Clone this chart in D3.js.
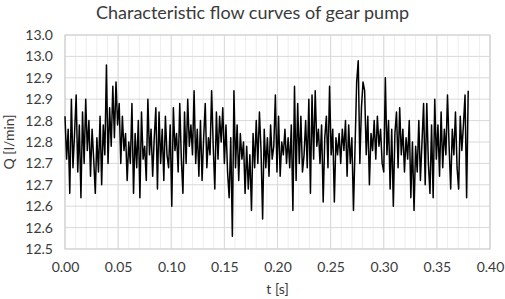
<!DOCTYPE html>
<html>
<head>
<meta charset="utf-8">
<script src="https://cdn.jsdelivr.net/npm/d3@7"></script>
<style>
  body { margin: 0; background: #fff; }
  text { font-family: Lato, "Open Sans", sans-serif; fill: #3a3a3a; }
</style>
</head>
<body>
<svg id="chart"></svg>
<script>
const width = 505;
const height = 299;

// sampling step of the flow signal [s]
const dt = 0.0015;

// flow Q [l/min]
const flow = [
  12.81, 12.71, 12.78, 12.63, 12.85, 12.69, 12.77, 12.86, 12.68, 12.79,
  12.62, 12.82, 12.70, 12.85, 12.73, 12.80, 12.67, 12.78, 12.71, 12.63,
  12.76, 12.68, 12.81, 12.65, 12.79, 12.72, 12.93, 12.70, 12.83, 12.74,
  12.88, 12.76, 12.89, 12.79, 12.84, 12.70, 12.81, 12.73, 12.77, 12.66,
  12.75, 12.70, 12.84, 12.63, 12.77, 12.69, 12.80, 12.62, 12.82, 12.71,
  12.74, 12.66, 12.85, 12.72, 12.78, 12.67, 12.76, 12.83, 12.64, 12.82,
  12.70, 12.78, 12.66, 12.81, 12.72, 12.69, 12.79, 12.60, 12.83, 12.73,
  12.77, 12.68, 12.84, 12.71, 12.63, 12.82, 12.70, 12.85, 12.74, 12.79,
  12.72, 12.87, 12.70, 12.78, 12.67, 12.80, 12.66, 12.76, 12.84, 12.69,
  12.76, 12.72, 12.87, 12.74, 12.64, 12.82, 12.71, 12.81, 12.75, 12.83,
  12.70, 12.79, 12.68, 12.62, 12.76, 12.53, 12.87, 12.69, 12.79, 12.66,
  12.77, 12.71, 12.75, 12.63, 12.74, 12.64, 12.72, 12.59, 12.77, 12.69,
  12.80, 12.70, 12.82, 12.73, 12.57, 12.78, 12.69, 12.76, 12.67, 12.79,
  12.71, 12.74, 12.86, 12.68, 12.81, 12.67, 12.75, 12.72, 12.78, 12.70,
  12.76, 12.69, 12.79, 12.59, 12.88, 12.66, 12.84, 12.70, 12.81, 12.68,
  12.72, 12.80, 12.69, 12.85, 12.63, 12.86, 12.71, 12.87, 12.74, 12.78,
  12.70, 12.79, 12.61, 12.76, 12.81, 12.69, 12.88, 12.72, 12.78, 12.61,
  12.76, 12.72, 12.77, 12.70, 12.78, 12.73, 12.80, 12.67, 12.79, 12.70,
  12.76, 12.59, 12.74, 12.89, 12.94, 12.70, 12.83, 12.89, 12.87, 12.72,
  12.81, 12.65, 12.77, 12.73, 12.80, 12.71, 12.81, 12.74, 12.78, 12.70,
  12.68, 12.90, 12.72, 12.80, 12.64, 12.78, 12.60, 12.77, 12.82, 12.69,
  12.83, 12.72, 12.78, 12.68, 12.76, 12.71, 12.80, 12.62, 12.75, 12.59,
  12.74, 12.68, 12.80, 12.66, 12.75, 12.84, 12.65, 12.84, 12.70, 12.63,
  12.79, 12.62, 12.85, 12.71, 12.79, 12.67, 12.82, 12.69, 12.78, 12.72,
  12.86, 12.74, 12.64, 12.78, 12.72, 12.82, 12.69, 12.64, 12.81, 12.73,
  12.79, 12.86, 12.62, 12.87
];

const xTicks = [0, 0.05, 0.1, 0.15, 0.2, 0.25, 0.3, 0.35, 0.4];
const xTickLabels = ["0.00", "0.05", "0.10", "0.15", "0.20", "0.25", "0.30", "0.35", "0.40"];
const xMinorTicks = d3.range(0, 41).map((i) => i / 100);
const yTicks = [12.5, 12.55, 12.6, 12.65, 12.7, 12.75, 12.8, 12.85, 12.9, 12.95, 13.0];
const yTickLabels = ["12.5", "12.6", "12.6", "12.7", "12.7", "12.8", "12.8", "12.9", "12.9", "13.0", "13.0"];

const margin = { top: 35, right: 15, bottom: 50, left: 65 };

const svg = d3.select("#chart").attr("width", width).attr("height", height);

const x = d3.scaleLinear().domain([0, 0.4]).range([margin.left, width - margin.right]);
const y = d3.scaleLinear().domain([12.5, 13.0]).range([height - margin.bottom, margin.top]);

// minor vertical grid
svg.append("g")
  .selectAll("line")
  .data(xMinorTicks)
  .enter()
  .append("line")
  .attr("x1", (d) => x(d))
  .attr("x2", (d) => x(d))
  .attr("y1", y(12.5))
  .attr("y2", y(13.0))
  .attr("stroke", "#eeeeee")
  .attr("stroke-width", 1);

// major grid
svg.append("g")
  .selectAll("line")
  .data(xTicks)
  .enter()
  .append("line")
  .attr("x1", (d) => x(d))
  .attr("x2", (d) => x(d))
  .attr("y1", y(12.5))
  .attr("y2", y(13.0))
  .attr("stroke", "#d9d9d9");

svg.append("g")
  .selectAll("line")
  .data(yTicks)
  .enter()
  .append("line")
  .attr("x1", x(0))
  .attr("x2", x(0.4))
  .attr("y1", (d) => y(d))
  .attr("y2", (d) => y(d))
  .attr("stroke", "#d9d9d9");

// plot border
svg.append("rect")
  .attr("x", x(0))
  .attr("y", y(13.0))
  .attr("width", x(0.4) - x(0))
  .attr("height", y(12.5) - y(13.0))
  .attr("fill", "none")
  .attr("stroke", "#d0d0d0");

// axes (labels only, Excel style)
const xAxis = d3.axisBottom(x)
  .tickValues(xTicks)
  .tickFormat((d, i) => xTickLabels[i])
  .tickSize(0)
  .tickPadding(13);
svg.append("g")
  .attr("transform", `translate(0,${y(12.5)})`)
  .call(xAxis)
  .call((g) => g.select(".domain").remove())
  .selectAll("text")
  .style("font-size", "14px")
  .attr("fill", "#3a3a3a");

const yAxis = d3.axisLeft(y)
  .tickValues(yTicks)
  .tickFormat((d, i) => yTickLabels[i])
  .tickSize(0)
  .tickPadding(12);
svg.append("g")
  .attr("transform", `translate(${x(0)},0)`)
  .call(yAxis)
  .call((g) => g.select(".domain").remove())
  .selectAll("text")
  .style("font-size", "14px")
  .attr("fill", "#3a3a3a");

// flow curve
const line = d3.line()
  .x((d, i) => x(i * dt))
  .y((d) => y(d));

svg.append("path")
  .datum(flow)
  .attr("d", line)
  .attr("fill", "none")
  .attr("stroke", "#000")
  .attr("stroke-width", 1.5)
  .attr("stroke-linejoin", "round");

// titles
svg.append("text")
  .attr("x", width / 2)
  .attr("y", 19)
  .attr("text-anchor", "middle")
  .style("font-size", "18px")
  .text("Characteristic flow curves of gear pump");

svg.append("text")
  .attr("x", (x(0) + x(0.4)) / 2)
  .attr("y", 294)
  .attr("text-anchor", "middle")
  .style("font-size", "14px")
  .text("t [s]");

svg.append("text")
  .attr("transform", `translate(14,${(y(12.5) + y(13.0)) / 2}) rotate(-90)`)
  .attr("text-anchor", "middle")
  .style("font-size", "14px")
  .text("Q [l/min]");
</script>
</body>
</html>
